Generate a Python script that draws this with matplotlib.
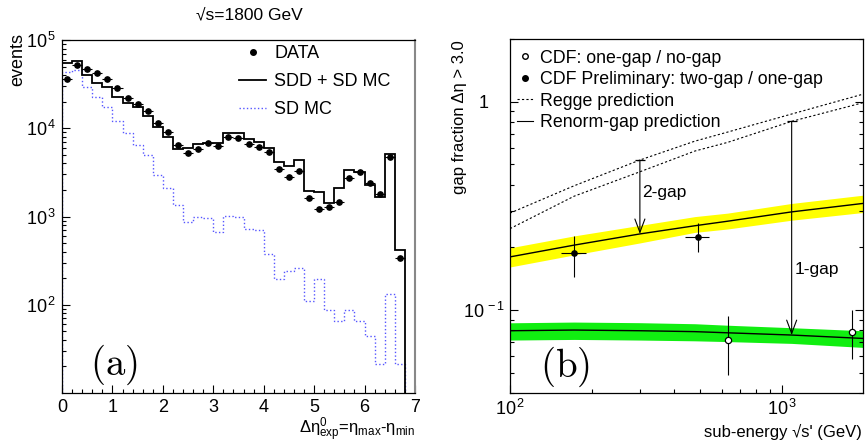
import matplotlib
matplotlib.use('Agg')
import matplotlib.pyplot as plt
import numpy as np
from matplotlib.lines import Line2D
from matplotlib.ticker import FixedLocator, FixedFormatter, LogLocator, MultipleLocator, NullFormatter

plt.rcParams['font.family'] = ['Liberation Sans', 'DejaVu Sans']
plt.rcParams['mathtext.fontset'] = 'custom'
plt.rcParams['mathtext.rm'] = 'Liberation Sans'
plt.rcParams['mathtext.it'] = 'Liberation Sans:italic'
plt.rcParams['mathtext.bf'] = 'Liberation Sans:bold'

# ---------------- panel (a) : rapidity gap distribution ----------------
bin_edges = np.round(np.arange(0, 6.81, 0.2), 2)   # 34 bins of 0.2
data_events = [35900, 52500, 47000, 42000, 35900, 28600, 22200, 18800, 15600, 11600,
               9020, 6410, 5250, 5780, 6760, 6310, 7960, 7760, 6640, 6130,
               5350, 3430, 2810, 3310, 1640, 1230, 1290, 1450, 2720, 3200,
               2420, 1820, 4730, 343]
sdd_sd_mc = [55300, 58400, 39800, 32900, 29100, 22600, 19400, 17300, 13800, 10300,
             8040, 5870, 6030, 6630, 6870, 6870, 8910, 8910, 7500, 7050,
             5930, 4120, 3740, 4400, 1960, 1910, 1440, 2120, 3400, 3230,
             2280, 1680, 5120, 419]
sd_mc = [43800, 45700, 29100, 22400, 17300, 12200, 8910, 6410, 5020, 2960,
         2090, 1350, 861, 982, 955, 664, 1023, 982, 724, 705,
         377, 195, 240, 259, 109, 195, 87.5, 64.6, 87.5, 64.6,
         43.7, 21.4, 132, 21.4]

# ---------------- panel (b) : gap fractions ----------------
one_gap_x = [630, 1800]
one_gap_y = [0.0718, 0.0789]
one_gap_lo = [0.0488, 0.0584]
one_gap_hi = [0.0939, 0.100]

two_gap_x = [172, 492]
two_gap_y = [0.187, 0.225]
two_gap_lo = [0.1445, 0.189]
two_gap_hi = [0.226, 0.2606]
two_gap_xlo = [154, 440]
two_gap_xhi = [190, 538]

curve_x = [100, 172, 300, 478, 630, 1083, 1980]
renorm_two = [0.180, 0.205, 0.232, 0.254, 0.267, 0.296, 0.325]
renorm_two_hi = [0.199, 0.227, 0.255, 0.281, 0.292, 0.325, 0.356]
renorm_two_lo = [0.161, 0.184, 0.210, 0.236, 0.245, 0.270, 0.294]
renorm_one = [0.0796, 0.0802, 0.0796, 0.0788, 0.0778, 0.0759, 0.0731]
renorm_one_hi = [0.0869, 0.0876, 0.0870, 0.0860, 0.0846, 0.0823, 0.0796]
renorm_one_lo = [0.0718, 0.0723, 0.0718, 0.0712, 0.0706, 0.0692, 0.0662]
regge_two = [0.292, 0.395, 0.525, 0.647, 0.715, 0.873, 1.087]
regge_one = [0.246, 0.352, 0.461, 0.580, 0.638, 0.805, 0.989]

# arrows : (x, top, bottom)
arrow_two = (300, 0.525, 0.232)
arrow_one = (1083, 0.805, 0.0759)

W, H = 866, 444
fig = plt.figure(figsize=(W / 100, H / 100), dpi=100)
axa = fig.add_axes([62 / W, 1 - 393 / H, 353 / W, 353 / H])
axb = fig.add_axes([510 / W, 1 - 393 / H, 353 / W, 354 / H])

tick_fs = 13
for ax in (axa, axb):
    ax.tick_params(which='both', direction='in', labelsize=tick_fs, width=0.8)
    ax.tick_params(which='major', length=6, pad=4)
    ax.tick_params(which='minor', length=3)
    for s in ax.spines.values():
        s.set_linewidth(0.9)

# ---- (a)
centers = (bin_edges[:-1] + bin_edges[1:]) / 2
axa.stairs(sd_mc, bin_edges, baseline=10, color='#5555ff', lw=1.0, ls=':', zorder=2)
axa.stairs(sdd_sd_mc, bin_edges, baseline=10, color='black', lw=1.3, zorder=3)
axa.errorbar(centers, data_events, xerr=0.1, fmt='o', color='black', ms=3.8,
             elinewidth=0.8, capsize=0, zorder=4)
axa.set_yscale('log')
axa.set_xlim(0, 7)
axa.set_ylim(10, 1e5)
axa.xaxis.set_major_locator(MultipleLocator(1))
axa.xaxis.set_minor_locator(MultipleLocator(0.2))
axa.yaxis.set_major_locator(FixedLocator([1e2, 1e3, 1e4, 1e5]))
axa.yaxis.set_major_formatter(FixedFormatter([r'$10^{\,2}$', r'$10^{\,3}$', r'$10^{\,4}$', r'$10^{\,5}$']))
axa.yaxis.set_minor_locator(LogLocator(base=10, subs=np.arange(2, 10)))
axa.yaxis.set_minor_formatter(NullFormatter())
axa.spines['right'].set_color('#888888')
axa.spines['right'].set_linewidth(1.5)

ha = [Line2D([], [], ls='none', marker='o', color='black', ms=4),
      Line2D([], [], color='black', lw=1.3),
      Line2D([], [], color='#5555ff', lw=1.0, ls=':')]
axa.legend(ha, ['DATA', 'SDD + SD MC', 'SD MC'], loc='upper left',
           bbox_to_anchor=((239 - 62) / 353, 0.985), frameon=False, fontsize=13,
           handlelength=1.5, handletextpad=0.45, labelspacing=0.6,
           borderpad=0, borderaxespad=0)
axa.text(0.08, 0.08, r'$\mathrm{(a)}$', transform=axa.transAxes, fontsize=28,
         math_fontfamily='cm', ha='left', va='center')

fig.text(249 / W, 1 - 15 / H, '√s=1800 GeV', ha='center', va='center', fontsize=12.5)
fig.text(18 / W, 1 - 33 / H, 'events', rotation=90, ha='center', va='top', fontsize=13)
fig.text(415 / W, 1 - 430 / H, r'Δη$^{0}_{\rm exp}$=η$_{\rm max}$-η$_{\rm min}$',
         ha='right', va='center', fontsize=12)

# ---- (b)
axb.set_xscale('log')
axb.set_yscale('log')
axb.fill_between(curve_x, renorm_two_lo, renorm_two_hi, color='#ffff00', lw=0, zorder=1)
axb.fill_between(curve_x, renorm_one_lo, renorm_one_hi, color='#11ee11', lw=0, zorder=1)
axb.plot(curve_x, renorm_two, color='black', lw=1.0, zorder=2)
axb.plot(curve_x, renorm_one, color='black', lw=1.0, zorder=2)
axb.plot(curve_x, regge_two, color='black', lw=0.8, ls=(0, (2, 2)), zorder=2)
axb.plot(curve_x, regge_one, color='black', lw=0.8, ls=(0, (2, 2)), zorder=2)

oy = np.array(one_gap_y)
axb.errorbar(one_gap_x, oy, yerr=[oy - np.array(one_gap_lo), np.array(one_gap_hi) - oy],
             fmt='o', mfc='white', mec='black', color='black', ms=4.5, mew=0.9,
             elinewidth=0.8, capsize=0, zorder=4)
ty = np.array(two_gap_y)
tx = np.array(two_gap_x)
axb.errorbar(tx, ty, yerr=[ty - np.array(two_gap_lo), np.array(two_gap_hi) - ty],
             xerr=[tx - np.array(two_gap_xlo), np.array(two_gap_xhi) - tx],
             fmt='o', color='black', ms=3.8, elinewidth=0.8, capsize=0, zorder=4)

for (x, top, bot), lab, lx, ly in ((arrow_two, '2-gap', 305, 0.368),
                                   (arrow_one, '1-gap', 1113, 0.157)):
    axb.annotate('', xy=(x, bot), xytext=(x, top),
                 arrowprops=dict(arrowstyle='->,head_length=0.8,head_width=0.3',
                                 lw=0.8, color='black', mutation_scale=12,
                                 shrinkA=0, shrinkB=0), zorder=3)
    axb.plot([x], [top], marker='_', ms=7, mew=0.9, color='black', zorder=3)
    axb.text(lx, ly, lab, ha='left', va='center', fontsize=12.5)

axb.set_xlim(100, 1980)
axb.set_ylim(0.04, 2)
axb.xaxis.set_major_locator(FixedLocator([100, 1000]))
axb.xaxis.set_major_formatter(FixedFormatter([r'$10^{\,2}$', r'$10^{\,3}$']))
axb.xaxis.set_minor_locator(LogLocator(base=10, subs=np.arange(2, 10)))
axb.xaxis.set_minor_formatter(NullFormatter())
axb.yaxis.set_major_locator(FixedLocator([0.1, 1]))
axb.yaxis.set_major_formatter(FixedFormatter([r'$10^{\,-1}$', '1   ']))
axb.yaxis.set_minor_locator(LogLocator(base=10, subs=np.arange(2, 10)))
axb.yaxis.set_minor_formatter(NullFormatter())
axb.tick_params(which='both', right=True)

hb = [Line2D([], [], ls='none', marker='o', mfc='white', mec='black', ms=4),
      Line2D([], [], ls='none', marker='o', color='black', ms=4),
      Line2D([], [], color='black', lw=0.8, ls=(0, (2, 2))),
      Line2D([], [], color='black', lw=0.8)]
axb.legend(hb, ['CDF: one-gap / no-gap', 'CDF Preliminary: two-gap / one-gap',
                'Regge prediction', 'Renorm-gap prediction'],
           loc='upper left', bbox_to_anchor=(0.02, 0.97), frameon=False, fontsize=12.8,
           handlelength=0.9, handletextpad=0.4, labelspacing=0.25,
           borderpad=0, borderaxespad=0)
axb.text(0.085, 0.075, r'$\mathrm{(b)}$', transform=axb.transAxes, fontsize=28,
         math_fontfamily='cm', ha='left', va='center')

fig.text(460 / W, 1 - 40 / H, 'gap fraction Δη > 3.0', rotation=90, ha='center',
         va='top', fontsize=12)
fig.text(862 / W, 1 - 432 / H, "sub-energy √s' (GeV)", ha='right', va='center', fontsize=12)

fig.savefig('out.png', dpi=100)
